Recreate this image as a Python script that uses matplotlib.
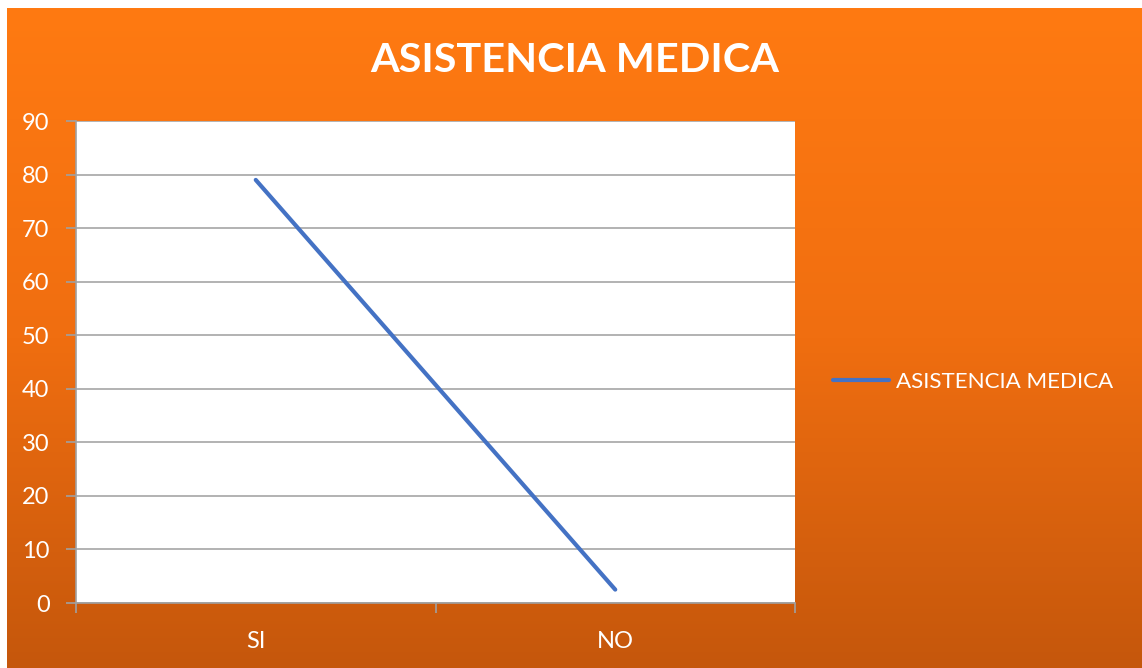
import matplotlib.pyplot as plt
import numpy as np
from matplotlib.colors import LinearSegmentedColormap

categories = ["SI", "NO"]
values = [79, 2.5]
series_name = "ASISTENCIA MEDICA"
title = "ASISTENCIA MEDICA"
y_ticks = list(range(0, 91, 10))

plt.rcParams['font.family'] = ['Lato', 'DejaVu Sans']

W, H = 1142, 668
fig = plt.figure(figsize=(W / 100, H / 100), dpi=100, facecolor='white')

# orange gradient background
bg = fig.add_axes([7 / W, 0, 1 - 7 / W, 660 / H])
grad = np.linspace(0, 1, 256).reshape(-1, 1)
cmap = LinearSegmentedColormap.from_list("org", ["#FF7A12", "#F06E10", "#C5570C"])
bg.imshow(grad, aspect='auto', cmap=cmap, extent=[0, 1, 0, 1], origin='upper')
bg.set_axis_off()

# plot area
left, right, top, bottom = 76, 795, 121, 603
ax = fig.add_axes([left / W, 1 - bottom / H, (right - left) / W, (bottom - top) / H])
ax.set_facecolor('white')
x = np.arange(len(categories))
line, = ax.plot(x, values, color='#4472C4', linewidth=3, solid_capstyle='round',
                label=series_name)
ax.set_xlim(-0.5, 1.5)
ax.set_ylim(0, 90)
ax.set_yticks(y_ticks)
ax.set_yticklabels([str(v) for v in y_ticks], color='white', fontsize=17)
ax.set_xticks([-0.5, 0.5, 1.5])
ax.set_xticklabels([])
ax.set_xticks(x, minor=True)
ax.set_xticklabels(categories, minor=True, color='white', fontsize=17)
ax.tick_params(axis='x', which='minor', length=0, pad=20)
ax.tick_params(axis='x', which='major', direction='out', length=7, color='#A0A0A0', width=1.2)
ax.tick_params(axis='y', direction='out', length=7, color='#A0A0A0', width=1.2, pad=12)
ax.grid(axis='y', color='#A6A6A6', linewidth=1.2)
ax.set_axisbelow(True)
for s in ['top', 'right']:
    ax.spines[s].set_visible(False)
for s in ['left', 'bottom']:
    ax.spines[s].set_color('#A0A0A0')
    ax.spines[s].set_linewidth(1.2)

fig.text(575 / W, 1 - 60 / H, title, color='white', fontsize=29.8, fontweight='bold',
         ha='center', va='center')

fig.legend(handles=[line], loc='center left', bbox_to_anchor=(813 / W, 1 - 382 / H),
           frameon=False, fontsize=16.1, labelcolor='white', handlelength=2.5,
           handletextpad=0.3)

fig.savefig("out.png", dpi=100)
